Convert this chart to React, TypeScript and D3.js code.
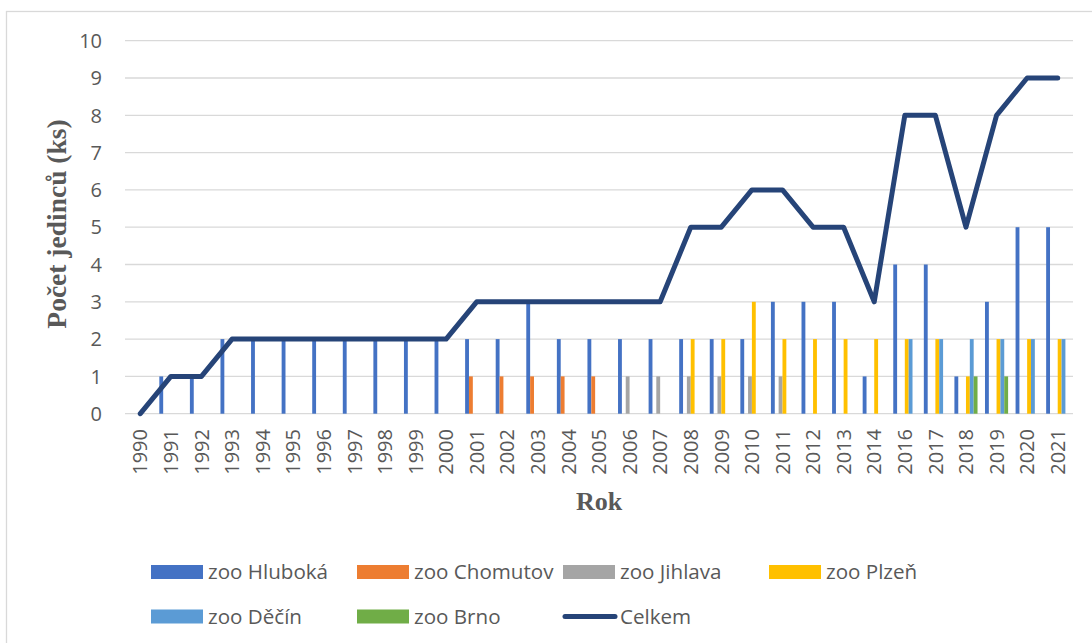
import React from 'react';
import * as d3 from 'd3';

const years = ['1990','1991','1992','1993','1994','1995','1996','1997','1998','1999','2000','2001','2002','2003','2004','2005','2006','2007','2008','2009','2010','2011','2012','2013','2014','2016','2017','2018','2019','2020','2021'];

const hluboka = [0,1,1,2,2,2,2,2,2,2,2, 2,2,3,2,2,2,2,2,2,2,3,3,3,1, 4,4,1,3,5,5];
const chomutov = [0,0,0,0,0,0,0,0,0,0,0, 1,1,1,1,1,0,0,0,0,0,0,0,0,0, 0,0,0,0,0,0];
const jihlava = [0,0,0,0,0,0,0,0,0,0,0, 0,0,0,0,0,1,1,1,1,1,1,0,0,0, 0,0,0,0,0,0];
const plzen = [0,0,0,0,0,0,0,0,0,0,0, 0,0,0,0,0,0,0,2,2,3,2,2,2,2, 2,2,1,2,2,2];
const decin = [0,0,0,0,0,0,0,0,0,0,0, 0,0,0,0,0,0,0,0,0,0,0,0,0,0, 2,2,2,2,2,2];
const brno = [0,0,0,0,0,0,0,0,0,0,0, 0,0,0,0,0,0,0,0,0,0,0,0,0,0, 0,0,1,1,0,0];
const celkem = [0,1,1,2,2,2,2,2,2,2,2, 3,3,3,3,3,3,3,5,5,6,6,5,5,3, 8,8,5,8,9,9];

const seriesNames = ['zoo Hluboká','zoo Chomutov','zoo Jihlava','zoo Plzeň','zoo Děčín','zoo Brno'];
const seriesValues = [hluboka, chomutov, jihlava, plzen, decin, brno];
const seriesColors = ['#4472C4','#ED7D31','#A5A5A5','#FFC000','#5B9BD5','#70AD47'];
const lineName = 'Celkem';
const lineColor = '#264478';
const yTicks = [0,1,2,3,4,5,6,7,8,9,10];

const W = 1092, H = 643;
const left = 125, right = 1073, top = 40.7, bottom = 413.7;
const textColor = '#595959';
const sans = '"Open Sans", sans-serif';
const serif = '"Liberation Serif", "Times New Roman", serif';

export default function App() {
  const x0 = d3.scaleBand<string>().domain(years).range([left, right]).paddingInner(0).paddingOuter(0);
  const x1 = d3.scaleBand<string>().domain(seriesNames).range([0, x0.bandwidth()]).paddingInner(0).paddingOuter(0.97);
  const y = d3.scaleLinear().domain([0, 10]).range([bottom, top]);
  const cx = (yr: string) => (x0(yr) as number) + x0.bandwidth() / 2;
  const line = d3.line<number>().x((_, i) => cx(years[i])).y(v => y(v));

  const legendItems = [
    ...seriesNames.map((n, i) => ({ name: n, color: seriesColors[i], type: 'bar' })),
    { name: lineName, color: lineColor, type: 'line' },
  ];
  const legendCols = [151, 357, 563, 769];
  const legendRows = [572, 616.5];

  return (
    <svg width={W} height={H} style={{ position: 'absolute', left: 0, top: 0, background: '#fff' }}>
      <rect x={6.5} y={11.5} width={1100} height={640} fill="#fff" stroke="#d9d9d9" strokeWidth={1.3} />
      {yTicks.map(t => (
        <g key={t}>
          <line x1={left} x2={right} y1={y(t)} y2={y(t)} stroke="#d9d9d9" strokeWidth={1.3} />
          <text x={102} y={y(t)} dy="0.36em" textAnchor="end" fontFamily={sans} fontSize={20} fill={textColor}>{t}</text>
        </g>
      ))}
      {years.map((yr, i) => (
        <g key={yr}>
          {seriesValues.map((vals, s) => vals[i] > 0 ? (
            <rect key={s} x={(x0(yr) as number) + (x1(seriesNames[s]) as number)} y={y(vals[i])}
              width={x1.bandwidth()} height={y(0) - y(vals[i])} fill={seriesColors[s]} />
          ) : null)}
          <text transform={`translate(${cx(yr)},429) rotate(-90)`} dy="0.36em" textAnchor="end"
            fontFamily={sans} fontSize={20} fill={textColor}>{yr}</text>
        </g>
      ))}
      <path d={line(celkem) as string} fill="none" stroke={lineColor} strokeWidth={5} strokeLinejoin="round" strokeLinecap="round" />
      <text x={(left + right) / 2} y={510} textAnchor="middle" fontFamily={serif} fontWeight="bold" fontSize={26} fill={textColor}>Rok</text>
      <text transform={`translate(66,224) rotate(-90)`} textAnchor="middle" fontFamily={serif} fontWeight="bold" fontSize={27.5} fill={textColor}>Počet jedinců (ks)</text>
      {legendItems.map((it, i) => {
        const col = i % 4, row = Math.floor(i / 4);
        const lx = legendCols[col], ly = legendRows[row];
        return (
          <g key={it.name}>
            {it.type === 'bar'
              ? <rect x={lx} y={ly - 7} width={52} height={14} fill={it.color} />
              : <line x1={lx + 2} x2={lx + 52} y1={ly} y2={ly} stroke={it.color} strokeWidth={5} strokeLinecap="round" />}
            <text x={lx + 57} y={ly} dy="0.36em" fontFamily={sans} fontSize={20.6} fill={textColor}>{it.name}</text>
          </g>
        );
      })}
    </svg>
  );
}
